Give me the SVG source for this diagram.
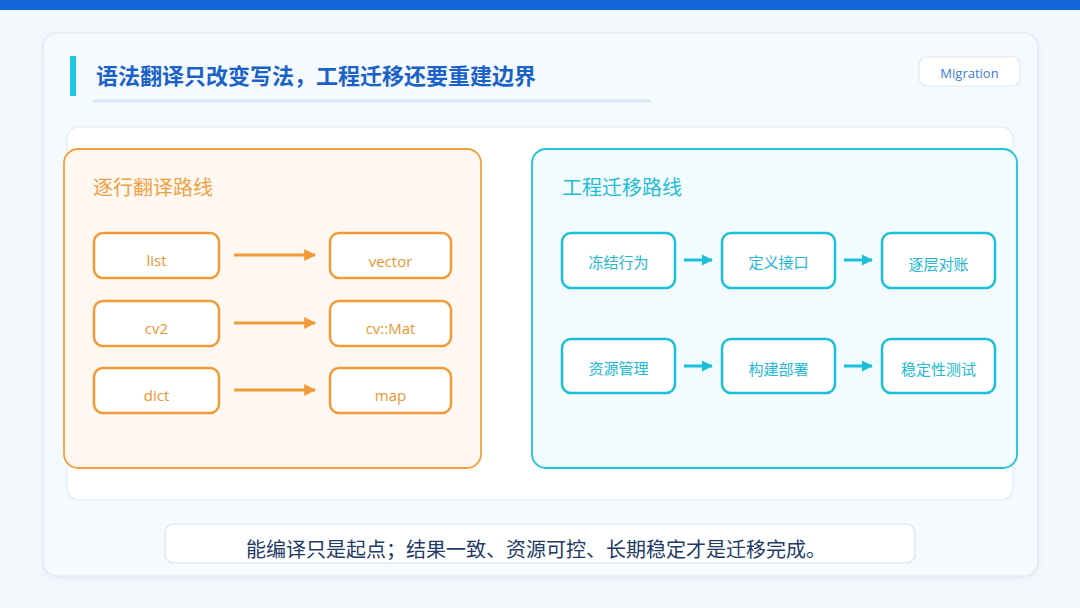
<svg xmlns="http://www.w3.org/2000/svg" width="1080" height="608" viewBox="0 0 1080 608">
<defs>
<style>
.cjk{font-family:"Noto Sans CJK SC","Noto Sans",sans-serif;}
.lat{font-family:"Open Sans","Noto Sans CJK SC",sans-serif;}
.obox{fill:#FFFFFF;stroke:#F29B36;stroke-width:2.5;}
.otxt{fill:#E9962F;font-size:15px;text-anchor:middle;}
.cbox{fill:#FFFFFF;stroke:#1CBFD8;stroke-width:2.5;}
.ctxt{fill:#20B8D3;font-size:15px;text-anchor:middle;}
.oarr{stroke:#F29B36;stroke-width:3;fill:none;}
.carr{stroke:#1CBFD8;stroke-width:3;fill:none;}
</style>
<marker id="ah-o" viewBox="0 0 10 10" refX="9" refY="5" markerWidth="4" markerHeight="4" orient="auto" markerUnits="strokeWidth"><path d="M0,0 L10,5 L0,10 z" fill="#F29B36"/></marker>
<marker id="ah-c" viewBox="0 0 10 10" refX="9" refY="5" markerWidth="3.8" markerHeight="3.8" orient="auto" markerUnits="strokeWidth"><path d="M0,0 L10,5 L0,10 z" fill="#1CBFD8"/></marker>
<filter id="sh" x="-5%" y="-5%" width="110%" height="115%"><feDropShadow dx="0" dy="2" stdDeviation="3" flood-color="#9DB8D6" flood-opacity="0.18"/></filter>
</defs>
<rect x="0" y="0" width="1080" height="608" fill="#F3F8FD"/>
<rect x="0" y="0" width="1080" height="10" fill="#1467D6"/>
<rect x="43" y="33" width="995" height="543" rx="14" fill="#F5FAFE" stroke="#DCE8F2" stroke-width="1.2" filter="url(#sh)"/>
<g id="title">
<rect x="70" y="56" width="6" height="40" fill="#1EC8E0"/>
<text x="96" y="84" class="cjk" font-size="22" font-weight="700" fill="#1B62C8">语法翻译只改变写法，工程迁移还要重建边界</text>
<line x1="93" y1="101" x2="650" y2="101" stroke="#D5E6F5" stroke-width="3"/>
</g>
<g id="tag">
<rect x="919" y="57" width="101" height="29" rx="8" fill="#FFFFFF" stroke="#DCE8F2" stroke-width="1.2"/>
<text x="969.5" y="77.5" class="lat" font-size="13" fill="#3A7BD5" text-anchor="middle">Migration</text>
</g>
<rect x="67" y="127" width="946" height="373" rx="12" fill="#FFFFFF" stroke="#E0EBF4" stroke-width="1.2"/>
<g id="left-panel">
<rect x="64" y="149" width="417" height="319" rx="14" fill="#FFF8F2" stroke="#F2A03E" stroke-width="1.8"/>
<text x="93" y="195" class="cjk" font-size="20" fill="#F0A040">逐行翻译路线</text>
</g>
<g id="n-list"><rect class="obox" x="94" y="233" width="125" height="45" rx="9"/><text class="otxt lat" x="156.5" y="266">list</text></g>
<g id="n-vector"><rect class="obox" x="330" y="233" width="121" height="45" rx="9"/><text class="otxt lat" x="390.5" y="267">vector</text></g>
<g id="n-cv2"><rect class="obox" x="94" y="301" width="125" height="45" rx="9"/><text class="otxt lat" x="156.5" y="334">cv2</text></g>
<g id="n-mat"><rect class="obox" x="330" y="301" width="121" height="45" rx="9"/><text class="otxt lat" x="390.5" y="334">cv::Mat</text></g>
<g id="n-dict"><rect class="obox" x="94" y="368" width="125" height="45" rx="9"/><text class="otxt lat" x="156.5" y="401">dict</text></g>
<g id="n-map"><rect class="obox" x="330" y="368" width="121" height="45" rx="9"/><text class="otxt lat" x="390.5" y="401">map</text></g>
<g id="right-panel">
<rect x="532" y="149" width="485" height="319" rx="14" fill="#F2FBFE" stroke="#1EC3DA" stroke-width="1.8"/>
<text x="562" y="195" class="cjk" font-size="20" fill="#22BCD6">工程迁移路线</text>
</g>
<g id="n-freeze"><rect class="cbox" x="562" y="233" width="113" height="55" rx="9"/><text class="ctxt cjk" x="618.5" y="268">冻结行为</text></g>
<g id="n-iface"><rect class="cbox" x="722" y="233" width="113" height="55" rx="9"/><text class="ctxt cjk" x="778.5" y="268">定义接口</text></g>
<g id="n-recon"><rect class="cbox" x="882" y="233" width="113" height="55" rx="9"/><text class="ctxt cjk" x="938.5" y="270">逐层对账</text></g>
<g id="n-res"><rect class="cbox" x="562" y="339" width="113" height="54" rx="9"/><text class="ctxt cjk" x="618.5" y="374">资源管理</text></g>
<g id="n-build"><rect class="cbox" x="722" y="339" width="113" height="54" rx="9"/><text class="ctxt cjk" x="778.5" y="375">构建部署</text></g>
<g id="n-stab"><rect class="cbox" x="882" y="339" width="113" height="54" rx="9"/><text class="ctxt cjk" x="938.5" y="375">稳定性测试</text></g>
<g id="connectors">
<line class="oarr" x1="234" y1="255" x2="315" y2="255" marker-end="url(#ah-o)"/>
<line class="oarr" x1="234" y1="323" x2="315" y2="323" marker-end="url(#ah-o)"/>
<line class="oarr" x1="234" y1="390" x2="315" y2="390" marker-end="url(#ah-o)"/>
<line class="carr" x1="684" y1="260" x2="712" y2="260" marker-end="url(#ah-c)"/>
<line class="carr" x1="844" y1="260" x2="872" y2="260" marker-end="url(#ah-c)"/>
<line class="carr" x1="684" y1="366" x2="712" y2="366" marker-end="url(#ah-c)"/>
<line class="carr" x1="844" y1="366" x2="872" y2="366" marker-end="url(#ah-c)"/>
</g>
<g id="caption">
<rect x="165" y="524" width="750" height="39" rx="9" fill="#FFFFFF" stroke="#D3E3F1" stroke-width="1.2"/>
<text x="536" y="557" class="cjk" font-size="20" fill="#1F3A66" text-anchor="middle">能编译只是起点；结果一致、资源可控、长期稳定才是迁移完成。</text>
</g>
</svg>
